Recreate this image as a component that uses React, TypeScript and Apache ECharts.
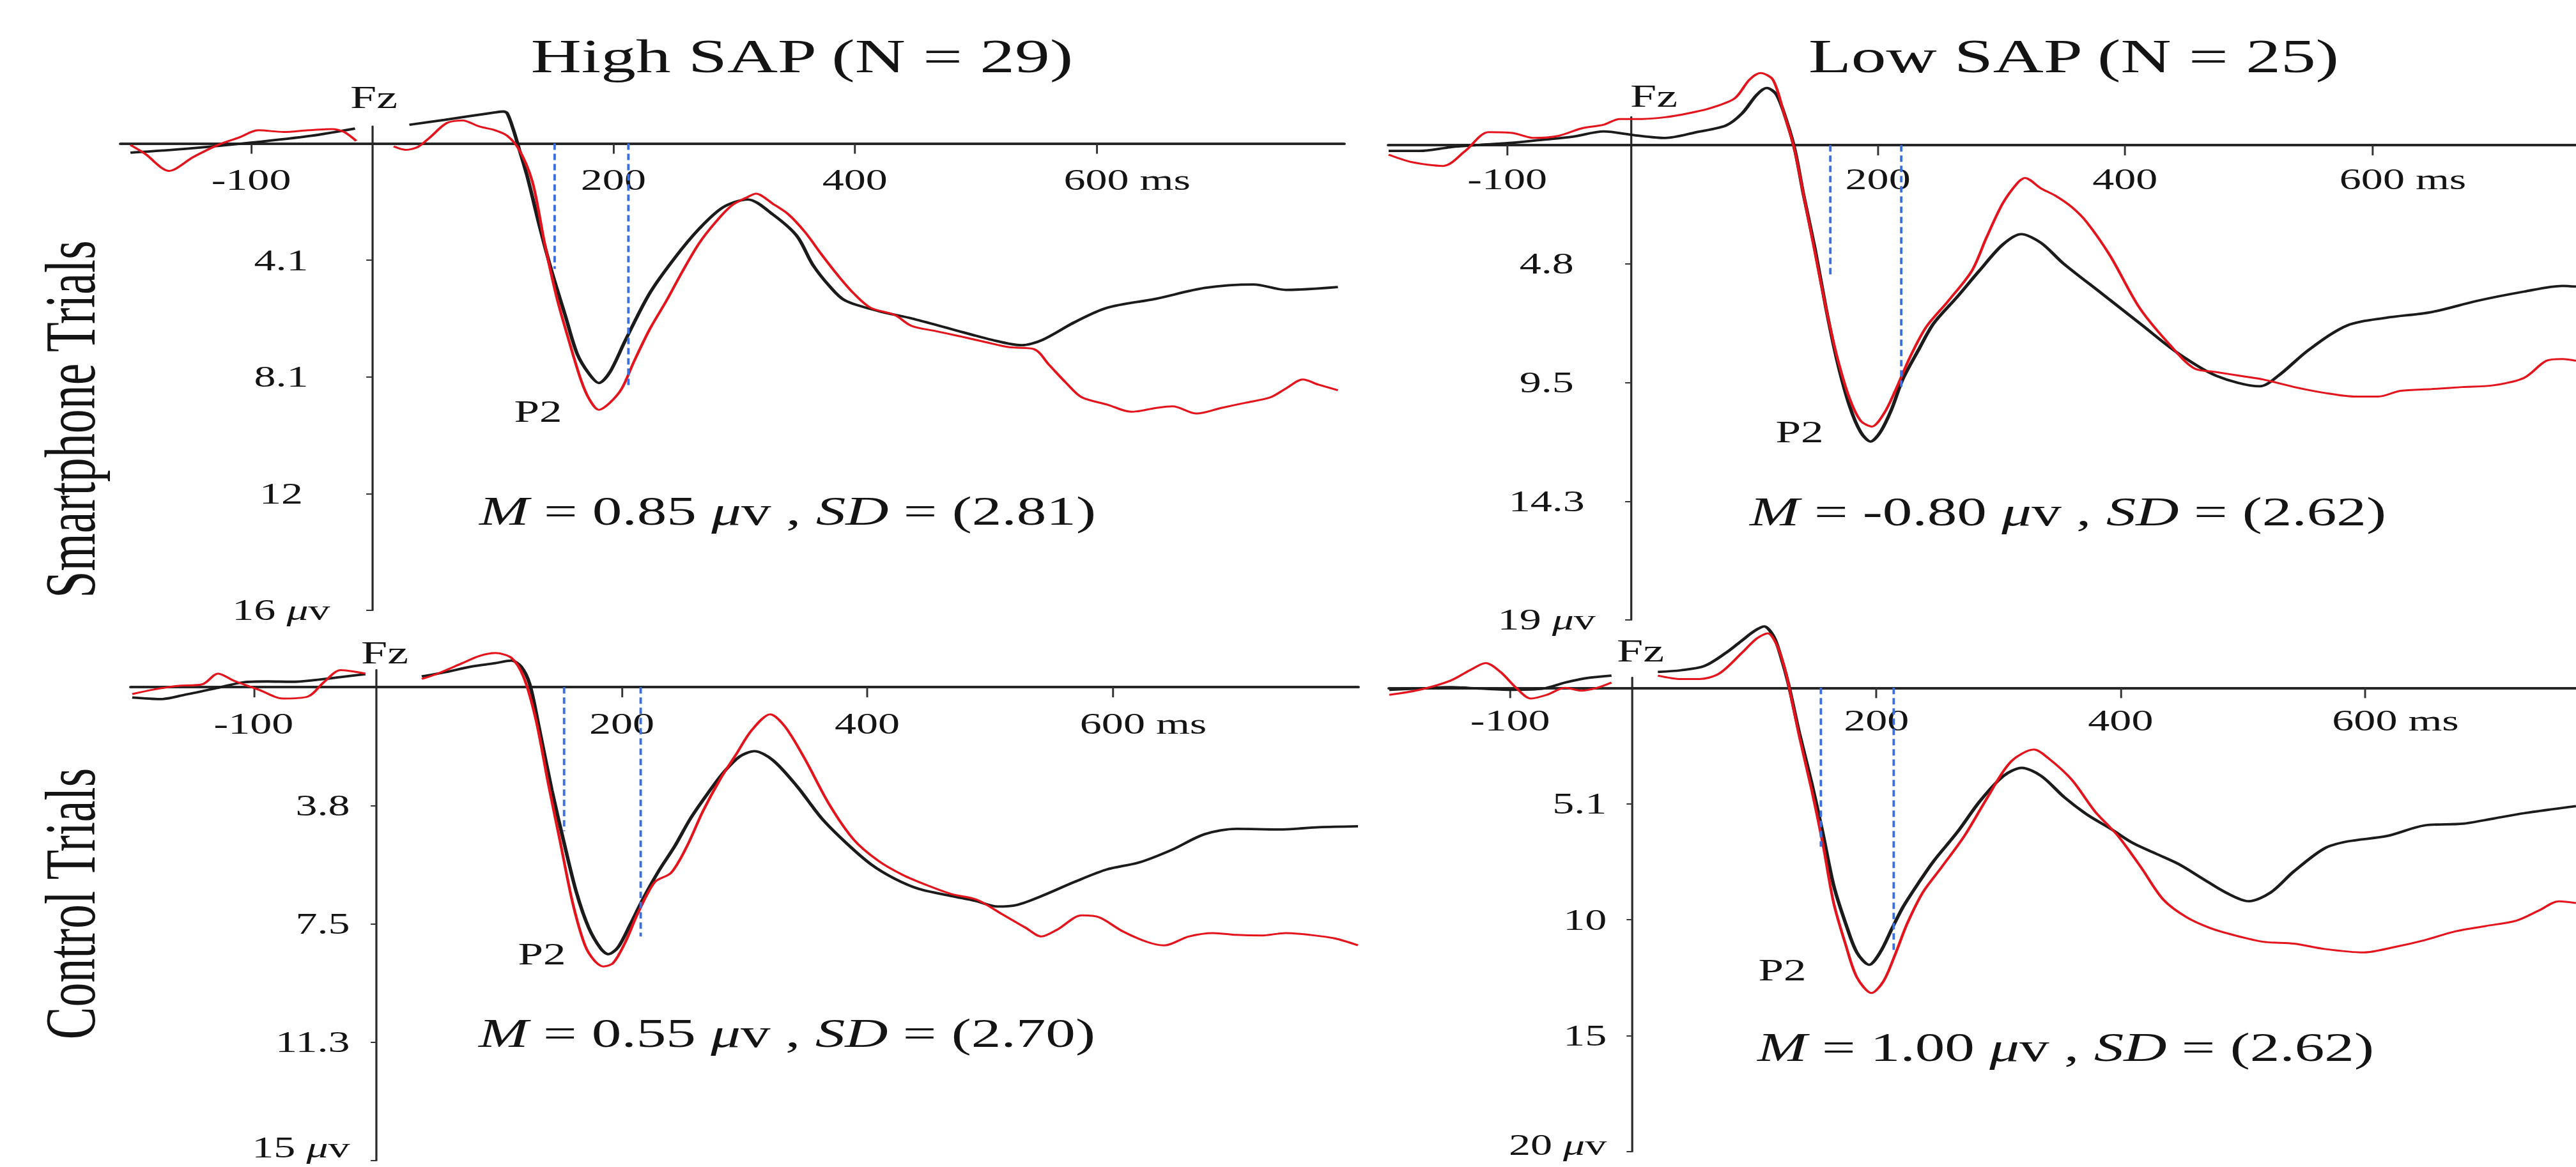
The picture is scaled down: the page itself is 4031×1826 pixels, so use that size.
import React, { useEffect, useRef } from 'react';
import * as echarts from 'echarts';

// ---------- data (time in ms, amplitude in µV; positive plotted downward) ----------
const xTickValues = [-100, 200, 400, 600];
const titles = ['High SAP (N = 29)', 'Low SAP (N = 25)'];
const rowLabels = ['Smartphone Trials', 'Control Trials'];
const seriesNames = ['Black', 'Red'];

// y tick values and their printed labels for each panel (TL, TR, BL, BR)
const tlYTicks = [4.05, 8.1, 12.15, 16.2];
const tlYLabels = ['4.1', '8.1', '12', '16'];
const trYTicks = [4.75, 9.5, 14.25, 19];
const trYLabels = ['4.8', '9.5', '14.3', '19'];
const blYTicks = [3.75, 7.5, 11.25, 15];
const blYLabels = ['3.8', '7.5', '11.3', '15'];
const brYTicks = [5, 10, 15, 20];
const brYLabels = ['5.1', '10', '15', '20'];

// P2 measurement window markers: [ms, µV reached by the dashed line]
const tlWindow = [[151, 4.35], [212, 8.5]];
const trWindow = [[161, 5.26], [219, 9.76]];
const blWindow = [[153, 4.56], [215, 7.9]];
const brWindow = [[154, 6.85], [214, 11.3]];

// mean / sd annotations
const statM = ['0.85', '-0.80', '0.55', '1.00'];
const statSD = ['2.81', '2.62', '2.70', '2.62'];

const tlBlack = [[-200,0.32],[-150,0.17],[-100,-0.03],[-50,-0.27],[-14,-0.52],[5,'-'],[31,-0.65],[60,-0.82],[102,-1.08],[109,-1.11],[112,-1.05],[117,-0.5],[122,0.2],[129,1.2],[139,2.9],[149,4.45],[160,5.95],[170,7.3],[180,8.0],[188,8.31],[197,7.94],[210,6.82],[230,5.2],[251,3.96],[271,2.96],[291,2.21],[311,1.94],[332,2.46],[352,3.21],[365,4.2],[379,4.95],[392,5.45],[420,5.82],[447,6.07],[480,6.44],[514,6.82],[538,7.0],[555,6.82],[582,6.2],[609,5.7],[649,5.39],[690,5.01],[730,4.89],[757,5.08],[800,4.98]];
const tlRed = [[-200,0.05],[-188,0.35],[-168,0.95],[-148,0.47],[-127,0.04],[-110,-0.21],[-94,-0.46],[-73,-0.40],[-53,-0.46],[-33,-0.50],[-23,-0.40],[-13,-0.09],[3,'-'],[18,0.10],[28,0.22],[38,0.12],[48,-0.21],[62,-0.71],[75,-0.80],[89,-0.59],[102,-0.46],[112,-0.27],[122,0.22],[133,1.34],[143,3.46],[153,5.33],[163,6.82],[173,8.19],[180,8.87],[188,9.24],[197,9.0],[207,8.5],[217,7.57],[230,6.45],[244,5.45],[257,4.45],[271,3.46],[285,2.71],[298,2.15],[312,1.84],[318,1.74],[332,2.09],[345,2.46],[359,3.09],[372,3.83],[386,4.58],[399,5.2],[413,5.7],[433,5.95],[447,6.33],[467,6.51],[487,6.69],[507,6.88],[528,7.07],[548,7.13],[561,7.69],[575,8.31],[588,8.81],[609,9.06],[629,9.31],[649,9.18],[663,9.12],[683,9.37],[703,9.18],[723,9.0],[744,8.81],[757,8.5],[771,8.19],[784,8.37],[800,8.56]];

const trBlack = [[-196,0.23],[-171,0.23],[-146,0.08],[-121,-0.02],[-96,-0.10],[-71,-0.22],[-47,-0.34],[-22,-0.55],[3,-0.40],[28,-0.29],[53,-0.52],[77,-0.79],[90,-1.27],[102,-2.02],[110,-2.29],[118,-2.02],[127,-0.83],[133,0.23],[140,2.03],[149,4.13],[158,6.53],[167,8.63],[177,10.43],[186,11.48],[194,11.86],[202,11.48],[211,10.58],[220,9.38],[233,8.18],[245,7.14],[264,6.08],[282,5.03],[301,3.98],[316,3.56],[332,3.91],[350,4.73],[381,5.93],[412,7.13],[443,8.33],[474,9.23],[509,9.65],[524,9.23],[549,8.18],[580,7.21],[611,6.91],[648,6.68],[685,6.23],[723,5.86],[754,5.63],[765,5.66]];
const trRed = [[-196,0.38],[-177,0.68],[-152,0.83],[-134,0.23],[-115,-0.52],[-96,-0.49],[-78,-0.29],[-59,-0.37],[-40,-0.67],[-22,-0.82],[-9,-1.05],[9,-1.05],[28,-1.12],[46,-1.27],[65,-1.49],[84,-1.87],[96,-2.62],[105,-2.89],[115,-2.62],[124,-1.27],[132,0.08],[140,2.03],[149,4.28],[158,6.53],[167,8.48],[177,10.13],[186,11.03],[195,11.26],[205,10.73],[214,9.83],[226,8.48],[239,7.28],[257,6.23],[276,5.03],[288,3.68],[301,2.33],[313,1.51],[319,1.31],[332,1.73],[344,2.03],[357,2.48],[369,3.08],[388,4.43],[412,6.53],[437,8.03],[456,8.93],[474,9.08],[493,9.23],[512,9.38],[537,9.68],[561,9.91],[586,10.06],[605,10.06],[623,9.83],[648,9.76],[673,9.68],[698,9.61],[723,9.31],[741,8.63],[754,8.56],[765,8.63]];

const blBlack = [[-199,0.33],[-176,0.38],[-156,0.24],[-129,0.02],[-109,-0.15],[-89,-0.18],[-69,-0.17],[-49,-0.23],[-29,-0.32],[-9,-0.41],[10,'-'],[37,-0.34],[57,-0.48],[77,-0.65],[97,-0.76],[110,-0.84],[118,-0.65],[125,-0.09],[133,1.36],[143,3.26],[153,4.94],[163,6.5],[173,7.62],[183,8.29],[189,8.46],[197,8.24],[207,7.51],[217,6.73],[230,5.83],[243,5.05],[256,4.16],[270,3.37],[283,2.7],[296,2.2],[308,2.03],[323,2.31],[343,3.15],[363,4.16],[383,4.94],[403,5.61],[422,6.06],[442,6.39],[469,6.62],[489,6.78],[506,6.95],[522,6.9],[542,6.62],[569,6.17],[595,5.78],[622,5.55],[648,5.16],[675,4.66],[701,4.49],[735,4.51],[768,4.44],[800,4.41]];
const blRed = [[-199,0.22],[-182,0.08],[-162,-0.04],[-142,-0.09],[-129,-0.43],[-116,-0.2],[-96,0.08],[-76,0.36],[-56,0.3],[-43,-0.15],[-29,-0.54],[-16,-0.48],[-9,-0.43],[10,'-'],[37,-0.26],[50,-0.43],[70,-0.76],[84,-0.99],[97,-1.08],[110,-0.93],[120,-0.32],[130,1.03],[140,3.04],[150,4.94],[160,6.84],[170,8.18],[178,8.68],[185,8.85],[193,8.74],[203,8.07],[213,7.17],[227,6.17],[240,5.89],[253,5.05],[266,3.94],[280,2.93],[293,2.14],[306,1.36],[321,0.86],[333,1.25],[349,2.26],[369,3.71],[389,4.83],[409,5.5],[429,5.95],[449,6.28],[469,6.56],[489,6.73],[509,7.17],[529,7.62],[542,7.9],[555,7.68],[575,7.23],[589,7.29],[608,7.73],[628,8.07],[642,8.18],[662,7.9],[682,7.79],[701,7.85],[721,7.87],[741,7.79],[761,7.85],[781,7.96],[800,8.18]];

const brBlack = [[-199,0.08],[-174,0.03],[-149,-0.03],[-124,0.03],[-98,0.08],[-73,0.03],[-55,-0.23],[-36,-0.43],[-17,-0.53],[0,'-'],[21,-0.69],[40,-0.76],[59,-0.94],[77,-1.52],[90,-2.05],[100,-2.45],[108,-2.65],[116,-2.2],[122,-1.3],[128,-0.15],[137,1.98],[147,4.11],[156,6.24],[165,8.52],[175,10.19],[184,11.41],[194,11.94],[203,11.41],[213,10.35],[222,9.43],[235,8.37],[247,7.46],[266,6.24],[285,4.87],[304,3.8],[319,3.45],[335,3.8],[354,4.72],[373,5.48],[392,6.08],[410,6.69],[429,7.15],[448,7.61],[467,8.22],[486,8.82],[505,9.2],[523,8.82],[542,7.91],[567,6.92],[586,6.62],[618,6.39],[649,5.93],[680,5.86],[706,5.63],[731,5.4],[773,5.1]];
const brRed = [[-199,0.3],[-174,0.08],[-149,-0.31],[-133,-0.76],[-120,-1.07],[-108,-0.69],[-95,0.0],[-83,0.46],[-70,0.3],[-55,0.0],[-42,0.12],[-29,0.0],[-17,-0.23],[0,'-'],[21,-0.53],[40,-0.38],[55,-0.38],[71,-0.61],[90,-1.52],[102,-2.13],[111,-2.35],[118,-1.9],[124,-1.0],[128,-0.15],[137,2.13],[147,4.41],[156,6.69],[165,9.28],[175,11.11],[184,12.48],[196,13.16],[206,12.63],[216,11.41],[225,10.19],[238,8.82],[253,7.76],[272,6.39],[291,4.72],[310,3.19],[329,2.66],[341,3.04],[360,3.96],[379,5.33],[398,6.39],[417,7.76],[435,9.13],[454,9.89],[473,10.35],[492,10.65],[517,10.95],[542,11.03],[567,11.26],[599,11.41],[624,11.18],[649,10.88],[674,10.5],[699,10.27],[724,10.04],[743,9.59],[759,9.2],[773,9.28]];

// ---------- layout (the figure is drawn narrow, then stretched horizontally) ----------
const FULL_W = 4031;
const FULL_H = 1826;
const W = 2724;
const STRETCH = FULL_W / W;
const fx = (v: number) => v / STRETCH;
const FONT = "'Liberation Serif', 'Times New Roman', Times, serif";
const INK = '#141414';
const BLACK = '#1b1b1b';
const RED = '#e3141c';
const BLUE = '#3b6fe0';

const panels = [
  { left: 189, right: 2103, top: 197.5, bottom: 955, xMin: -208, xMax: 805, yMin: -0.6, yMax: 16.2,
    yTicks: tlYTicks, yLabels: tlYLabels, align: 'center', yMargin: 96, xMargin: 34, lastLift: 0,
    black: tlBlack, red: tlRed, win: tlWindow,
    fz: [585, 152], p2: [842, 644], stat: [750, 800] },
  { left: 2173, right: 4031, top: 183, bottom: 970, xMin: -196, xMax: 765, yMin: -1.13, yMax: 19,
    yTicks: trYTicks, yLabels: trYLabels, align: 'center', yMargin: 89, xMargin: 30, lastLift: 0,
    black: trBlack, red: trRed, win: trWindow,
    fz: [2588, 150], p2: [2816, 676], stat: [2738, 801] },
  { left: 205, right: 2125, top: 1048, bottom: 1816, xMin: -200, xMax: 800, yMin: -0.55, yMax: 15,
    yTicks: blYTicks, yLabels: blYLabels, align: 'right', yMargin: 28, xMargin: 34, lastLift: 40,
    black: blBlack, red: blRed, win: blWindow,
    fz: [602, 1021], p2: [848, 1493], stat: [749, 1617] },
  { left: 2174, right: 4031, top: 1060, bottom: 1802, xMin: -199, xMax: 773, yMin: -0.45, yMax: 20,
    yTicks: brYTicks, yLabels: brYLabels, align: 'right', yMargin: 27, xMargin: 28, lastLift: 20,
    black: brBlack, red: brRed, win: brWindow,
    fz: [2567, 1018], p2: [2789, 1518], stat: [2750, 1639] },
];

const TICK_FS = 46;
const msPad = Math.round((0.25 + 0.778 + 0.389) * TICK_FS);

function buildOption() {
  const geo = panels.map((p) => {
    const gl = fx(p.left);
    const gw = fx(p.right - p.left);
    const gt = p.top;
    const gh = p.bottom - p.top;
    const x0 = gl + ((0 - p.xMin) / (p.xMax - p.xMin)) * gw;
    const y0 = gt + ((0 - p.yMin) / (p.yMax - p.yMin)) * gh;
    return { gl, gw, gt, gh, x0, y0 };
  });

  const grid = geo.map((g) => ({ left: g.gl, top: g.gt, width: g.gw, height: g.gh }));

  const xAxis = panels.map((p, i) => ({
    gridIndex: i, type: 'value', min: p.xMin, max: p.xMax, position: 'bottom',
    offset: -(geo[i].gt + geo[i].gh - geo[i].y0),
    axisLine: { show: true, onZero: false, lineStyle: { color: '#262626', width: 4 } },
    axisTick: { show: true, customValues: xTickValues, length: 16, lineStyle: { color: '#333', width: 2 } },
    axisLabel: {
      show: true, customValues: xTickValues, margin: p.xMargin,
      fontFamily: FONT, fontSize: TICK_FS, color: INK,
      formatter: (v: number) => (v === 600 ? '{ms|600 ms}' : String(v)),
      rich: { ms: { fontFamily: FONT, fontSize: TICK_FS, color: INK, padding: [0, 0, 0, msPad] } },
    },
    splitLine: { show: false },
  }));

  const yAxis = panels.map((p, i) => ({
    gridIndex: i, type: 'value', inverse: true, min: p.yMin, max: p.yMax, position: 'left',
    offset: -(geo[i].x0 - geo[i].gl),
    axisLine: { show: true, onZero: false, lineStyle: { color: '#2a2a2a', width: 2.2 } },
    axisTick: { show: true, customValues: p.yTicks, length: 6, lineStyle: { color: '#333', width: 2 } },
    axisLabel: {
      show: true, customValues: p.yTicks, margin: p.yMargin, align: p.align,
      fontFamily: FONT, fontSize: TICK_FS, color: INK,
      formatter: (v: number) => {
        const k = p.yTicks.findIndex((t) => Math.abs(t - v) < 1e-6);
        if (k < 0) return '';
        if (k < p.yTicks.length - 1) return p.yLabels[k];
        return p.lastLift
          ? `{lb|${p.yLabels[k]} }{lmu|μ}{lb|v}`
          : `${p.yLabels[k]} {mu|μ}v`;
      },
      rich: {
        mu: { fontFamily: FONT, fontSize: TICK_FS, fontStyle: 'italic', color: INK },
        lb: { fontFamily: FONT, fontSize: TICK_FS, color: INK, padding: [0, 0, p.lastLift, 0] },
        lmu: { fontFamily: FONT, fontSize: TICK_FS, fontStyle: 'italic', color: INK, padding: [0, 0, p.lastLift, 0] },
      },
    },
    splitLine: { show: false },
  }));

  const series: any[] = [];
  panels.forEach((p, i) => {
    series.push({
      name: seriesNames[0], type: 'line', xAxisIndex: i, yAxisIndex: i, data: p.black,
      showSymbol: false, symbol: 'none', smooth: 0.3, clip: false, connectNulls: false, z: 3,
      lineStyle: { color: BLACK, width: 3.8 },
      markLine: {
        silent: true, symbol: ['none', 'none'], label: { show: false },
        lineStyle: { color: BLUE, width: 2.6, type: [10, 6] },
        data: p.win.map(([x, y]) => [{ coord: [x, 0] }, { coord: [x, y] }]),
      },
    });
    series.push({
      name: seriesNames[1], type: 'line', xAxisIndex: i, yAxisIndex: i, data: p.red,
      showSymbol: false, symbol: 'none', smooth: 0.3, clip: false, connectNulls: false, z: 4,
      lineStyle: { color: RED, width: 3.0 },
    });
  });

  const text = (x: number, y: number, t: string, fs: number) => ({
    type: 'text', x, y, z: 10, silent: true,
    style: {
      text: t, fontFamily: FONT, fontSize: fs, fill: INK,
      align: 'center', verticalAlign: 'middle', textAlign: 'center', textVerticalAlign: 'middle',
    },
  });

  const italic = { fontFamily: FONT, fontSize: 63, fontStyle: 'italic', fill: INK };
  const graphic: any[] = [
    text(fx(1255), 88, titles[0], 74),
    text(fx(3245), 88, titles[1], 74),
    { ...text(fx(110), 656, rowLabels[0], 76), rotation: Math.PI / 2 },
    { ...text(fx(110), 1414, rowLabels[1], 76), rotation: Math.PI / 2 },
  ];
  panels.forEach((p, i) => {
    graphic.push(text(fx(p.fz[0]), p.fz[1], 'Fz', 50));
    graphic.push(text(fx(p.p2[0]), p.p2[1], 'P2', 48));
    graphic.push({
      type: 'text', x: fx(p.stat[0]), y: p.stat[1], z: 10, silent: true,
      style: {
        text: `{i|M} = ${statM[i]} {i|μ}v , {i|SD} = (${statSD[i]})`,
        fontFamily: FONT, fontSize: 63, fill: INK,
        align: 'left', verticalAlign: 'middle', textAlign: 'left', textVerticalAlign: 'middle',
        rich: { i: italic },
      },
    });
  });

  return {
    animation: false,
    backgroundColor: '#ffffff',
    grid, xAxis, yAxis, series, graphic,
  };
}

export default function App() {
  const ref = useRef<HTMLDivElement>(null);
  useEffect(() => {
    document.body.style.overflow = 'hidden';
    const chart = echarts.init(ref.current as HTMLDivElement, null, { renderer: 'svg', width: W, height: FULL_H });
    chart.setOption(buildOption() as any);
    return () => chart.dispose();
  }, []);
  return (
    <div
      ref={ref}
      style={{
        position: 'absolute', left: 0, top: 0, width: `${W}px`, height: `${FULL_H}px`,
        transform: `scaleX(${STRETCH})`, transformOrigin: '0 0', background: '#fff',
      }}
    />
  );
}
